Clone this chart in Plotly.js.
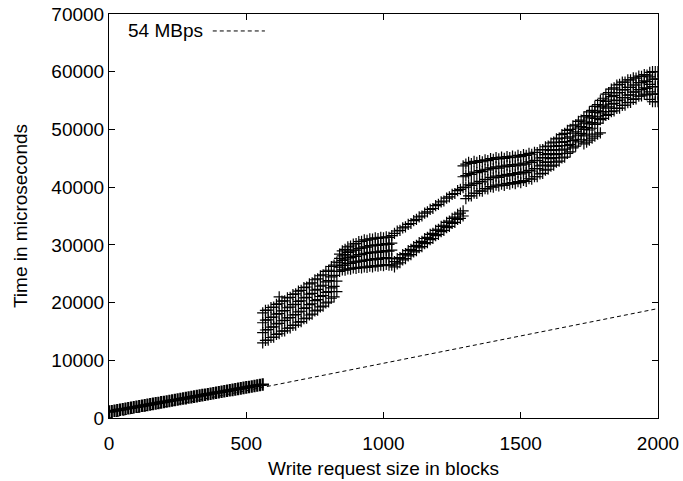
<!DOCTYPE html>
<html>
<head>
<meta charset="utf-8">
<script src="https://cdn.plot.ly/plotly-3.0.1.min.js"></script>
<style>
  html, body { margin: 0; padding: 0; background: #fff; }
  #chart { width: 683px; height: 481px; }
</style>
</head>
<body>
<div id="chart"></div>
<script>
// Small writes: request size in blocks and measured time (microseconds)
const smallSizes = [0, 10, 20, 30, 40, 50, 60, 70, 80, 90, 100, 110, 120, 130, 140, 150,
  160, 170, 180, 190, 200, 210, 220, 230, 240, 250, 260, 270, 280, 290, 300, 310, 320,
  330, 340, 350, 360, 370, 380, 390, 400, 410, 420, 430, 440, 450, 460, 470, 480, 490,
  500, 510, 520, 530, 540, 550, 560];
const smallTimes = [1100, 1180, 1260, 1350, 1440, 1520, 1600, 1690, 1770, 1860, 1940,
  2020, 2110, 2190, 2280, 2360, 2440, 2530, 2610, 2700, 2780, 2860, 2950, 3030, 3120,
  3200, 3280, 3370, 3450, 3540, 3620, 3700, 3790, 3870, 3960, 4040, 4120, 4210, 4290,
  4380, 4460, 4540, 4630, 4710, 4800, 4880, 4960, 5050, 5130, 5220, 5300, 5380, 5470,
  5550, 5640, 5720, 5800];

// Large writes, even sizes: request sizes and measured times, one list per run
const largeSizes = [560, 580, 600, 620, 640, 660, 680, 700, 720, 740, 760, 780, 800, 820,
  840, 860, 880, 900, 920, 940, 960, 980, 1000, 1020,
  1040, 1060, 1080, 1100, 1120, 1140, 1160, 1180, 1200, 1220, 1240, 1260, 1280,
  1300, 1320, 1340, 1360, 1380, 1400, 1420, 1440, 1460, 1480, 1500, 1520,
  1540, 1560, 1580, 1600, 1620, 1640, 1660, 1680, 1700, 1720, 1740, 1760, 1780, 1800,
  1820, 1840, 1860, 1880, 1900, 1920, 1940, 1960, 1980, 2000];

const runA = [13000, 13500, 14000, 14600, 15100, 15600, 16100, 16700, 17300, 18000, 18700, 19400, 20100, 21000,
  25400, 25600, 25800, 25900, 26000, 26100, 26200, 26300, 26400, 26500,
  26200, 26900, 27600, 28300, 29000, 29700, 30400, 31100, 31800, 32500, 33200, 33900, 34600,
  38000, 38500, 38900, 39300, 39700, 40000, 40200, 40300, 40500, 40600, 40800, 41000,
  41400, 41800, 42400, 43100, 43800, 44500, 45200, 46100, 47100, 48200, 49200, 50200, 51100, 51900,
  52600, 53200, 53700, 54200, 54700, 55300, 55800, 56000, 54800, 54800];

const runB = [14800, 15300, 15800, 16400, 16900, 17400, 17900, 18500, 19100, 19800, 20500, 21200, 21900, 22800,
  26150, 26500, 26800, 27000, 27150, 27300, 27400, 27500, 27600, 27700,
  27100, 27800, 28500, 29200, 29900, 30600, 31300, 32000, 32700, 33400, 34100, 34800, 35500,
  40000, 40300, 40600, 40900, 41300, 41600, 41700, 41900, 42000, 42200, 42300, 42500,
  42800, 43200, 43800, 44400, 45100, 45800, 46600, 47400, 48300, 49300, 50300, 51200, 52200, 53100,
  53900, 54500, 55100, 55500, 56000, 56500, 56900, 57100, 56100, 56100];

const runC = [16500, 17000, 17500, 18100, 18600, 19200, 19700, 20300, 20900, 21600, 22300, 23000, 23800, 24700,
  26900, 27400, 27800, 28000, 28300, 28500, 28600, 28700, 28800, 28900,
  32000, 32500, 33100, 33700, 34400, 35000, 35700, 36300, 37000, 37600, 38300, 38900, 39600,
  42000, 42200, 42500, 42700, 43000, 43200, 43300, 43500, 43600, 43700, 43800, 44000,
  44300, 44600, 45100, 45800, 46500, 47200, 47900, 48700, 49600, 50500, 51300, 52300, 53200, 54200,
  55100, 55900, 56400, 56900, 57300, 57700, 58100, 58300, 57400, 57400];

const runD = [18200, 18700, 19200, 19800, 20300, 20900, 21500, 22100, 22700, 23400, 24100, 24800, 25600, 26500,
  27650, 28300, 28800, 29100, 29450, 29600, 29800, 29900, 30000, 30100,
  null, null, null, null, null, null, null, null, null, null, null, null, null,
  44000, 44100, 44300, 44400, 44600, 44800, 44900, 45000, 45100, 45200, 45300, 45500,
  45700, 46000, 46500, 47100, 47800, 48500, 49300, 50000, 50800, 51600, 52400, 53300, 54300, 55400,
  56400, 57200, 57800, 58200, 58600, 58900, 59200, 59400, 58700, 58700];

const runE = [null, null, null, 21000, null, null, null, null, null, null, null, null, null, null,
  28400, 29200, 29800, 30200, 30600, 30800, 31000, 31100, 31200, 31300,
  null, null, null, null, null, null, null, null, null, null, null, null, null,
  null, null, null, null, null, null, null, null, null, null, null, null,
  null, null, null, null, null, null, null, null, null, null, 47800, 48500, 49200, null,
  null, null, null, null, null, null, null, null, 60000, 60000];

// Large writes, odd sizes
const largeSizesOdd = [570, 590, 610, 630, 650, 670, 690, 710, 730, 750, 770, 790, 810,
  830, 850, 870, 890, 910, 930, 950, 970, 990, 1010, 1030,
  1050, 1070, 1090, 1110, 1130, 1150, 1170, 1190, 1210, 1230, 1250, 1270, 1290,
  1310, 1330, 1350, 1370, 1390, 1410, 1430, 1450, 1470, 1490, 1510, 1530,
  1550, 1570, 1590, 1610, 1630, 1650, 1670, 1690, 1710, 1730, 1750, 1770, 1790,
  1810, 1830, 1850, 1870, 1890, 1910, 1930, 1950, 1970, 1990];

const runA2 = [13450, 13950, 14500, 15050, 15550, 16050, 16600, 17200, 17850, 18550, 19250, 19950, 20750,
  21900, 25650, 25850, 26000, 26100, 26200, 26300, 26400, 26500, 26600, 26500,
  26700, 27400, 28100, 28800, 29500, 30200, 30900, 31600, 32300, 33000, 33700, 34400, 35000,
  38500, 38950, 39350, 39750, 40100, 40350, 40500, 40650, 40800, 40950, 41150, 41450,
  41800, 42300, 42950, 43650, 44350, 45050, 45850, 46800, 47850, 48900, 49900, 50850, 51700,
  52450, 53100, 53650, 54150, 54650, 55200, 55750, 56100, 55200, 54800];

const runB2 = [15250, 15750, 16300, 16850, 17350, 17850, 18400, 19000, 19650, 20350, 21050, 21750, 22550,
  23700, 26450, 26800, 27050, 27200, 27350, 27500, 27600, 27700, 27800, 27600,
  27600, 28300, 29000, 29700, 30400, 31100, 31800, 32500, 33200, 33900, 34600, 35300, 35900,
  40400, 40700, 41000, 41350, 41700, 41900, 42050, 42200, 42350, 42500, 42650, 42900,
  43200, 43700, 44300, 44950, 45650, 46400, 47200, 48050, 49000, 50000, 50950, 51900, 52850,
  53700, 54400, 55000, 55500, 55950, 56450, 56900, 57200, 56500, 56100];

const runC2 = [16950, 17450, 18000, 18550, 19100, 19650, 20200, 20800, 21450, 22150, 22850, 23600, 24450,
  25400, 27300, 27750, 28050, 28300, 28550, 28700, 28800, 28900, 29000, 29100,
  32400, 32950, 33550, 34200, 34850, 35500, 36150, 36800, 37450, 38100, 38750, 39400, 39900,
  42350, 42600, 42850, 43100, 43350, 43500, 43650, 43800, 43900, 44000, 44150, 44400,
  44650, 45050, 45650, 46350, 47050, 47750, 48500, 49350, 50250, 51100, 52000, 52950, 53900,
  54850, 55700, 56350, 56850, 57300, 57700, 58100, 58400, 57800, 57400];

const runD2 = [18650, 19150, 19700, 20250, 20800, 21400, 22000, 22600, 23250, 23950, 24650, 25400, 26250,
  27000, 28100, 28700, 29100, 29400, 29650, 29850, 30000, 30100, 30200, 30300,
  null, null, null, null, null, null, null, null, null, null, null, null, 43700,
  44300, 44450, 44600, 44750, 44950, 45100, 45200, 45300, 45400, 45500, 45650, 45850,
  46050, 46450, 47000, 47650, 48350, 49100, 49850, 50600, 51400, 52200, 53050, 54000, 55050,
  56100, 57000, 57700, 58200, 58600, 58950, 59250, 59500, 59100, 58700];

const runE2 = [null, null, null, null, null, null, null, null, null, null, null, null, null,
  null, 28950, 29650, 30150, 30550, 30850, 31050, 31200, 31300, 31400, 31600,
  null, null, null, null, null, null, null, null, null, null, null, null, 41800,
  null, null, null, null, null, null, null, null, null, null, null, null,
  null, null, null, null, null, null, null, null, null, 47500, 48150, 48850, 49400,
  null, null, null, null, null, null, null, null, 59900, 60000];

// Reference transfer rate: 54 MBps (512-byte blocks)
const rateLabel = '54 MBps';
const rateSizes = [0, 2000];
const rateTimes = [0, 18963];

const font = 'Liberation Sans, Arial, Helvetica, sans-serif';
const fs = 19;
const crossMarker = { symbol: 'cross-thin', size: 8, color: '#000', line: { color: '#000', width: 1.2 } };

const traces = [
  {
    x: rateSizes, y: rateTimes, type: 'scatter', mode: 'lines',
    line: { color: '#000', width: 1, dash: '4px,3px' }, hoverinfo: 'skip'
  },
  {
    x: smallSizes, y: smallTimes, type: 'scatter', mode: 'markers',
    marker: { symbol: 'cross-thin', size: 9, color: '#000', line: { color: '#000', width: 2.2 } }
  }
];
[runA, runB, runC, runD, runE].forEach(function (run) {
  traces.push({ x: largeSizes, y: run, type: 'scatter', mode: 'markers', marker: crossMarker });
});
[runA2, runB2, runC2, runD2, runE2].forEach(function (run) {
  traces.push({ x: largeSizesOdd, y: run, type: 'scatter', mode: 'markers', marker: crossMarker });
});

const axisCommon = {
  showline: true, linecolor: '#000', linewidth: 1, mirror: 'ticks',
  ticks: 'inside', ticklen: 6, tickwidth: 1, tickcolor: '#000',
  showgrid: false, zeroline: false, tickformat: 'd', automargin: false,
  tickfont: { family: font, size: fs, color: '#000' }
};

const layout = {
  width: 683, height: 481,
  margin: { l: 109, r: 25, t: 14, b: 63 },
  paper_bgcolor: '#fff', plot_bgcolor: '#fff',
  showlegend: false,
  font: { family: font, size: fs, color: '#000' },
  xaxis: Object.assign({}, axisCommon, {
    range: [0, 2000], tickvals: [0, 500, 1000, 1500, 2000], ticklabelstandoff: 8,
    title: { text: 'Write request size in blocks', font: { family: font, size: fs, color: '#000' }, standoff: 8 }
  }),
  yaxis: Object.assign({}, axisCommon, {
    range: [0, 70000], tickvals: [0, 10000, 20000, 30000, 40000, 50000, 60000, 70000],
    title: { text: 'Time in microseconds', font: { family: font, size: fs, color: '#000' }, standoff: 18 }
  }),
  annotations: [{
    text: rateLabel, xref: 'paper', yref: 'paper', x: 0.031, y: 0.958,
    xanchor: 'left', yanchor: 'middle', showarrow: false,
    font: { family: font, size: fs, color: '#000' }
  }],
  shapes: [{
    type: 'line', xref: 'paper', yref: 'paper', x0: 0.189, x1: 0.284, y0: 0.958, y1: 0.958,
    line: { color: '#000', width: 1, dash: '4px,3px' }
  }]
};

Plotly.newPlot('chart', traces, layout, { staticPlot: true, displayModeBar: false });
</script>
</body>
</html>
